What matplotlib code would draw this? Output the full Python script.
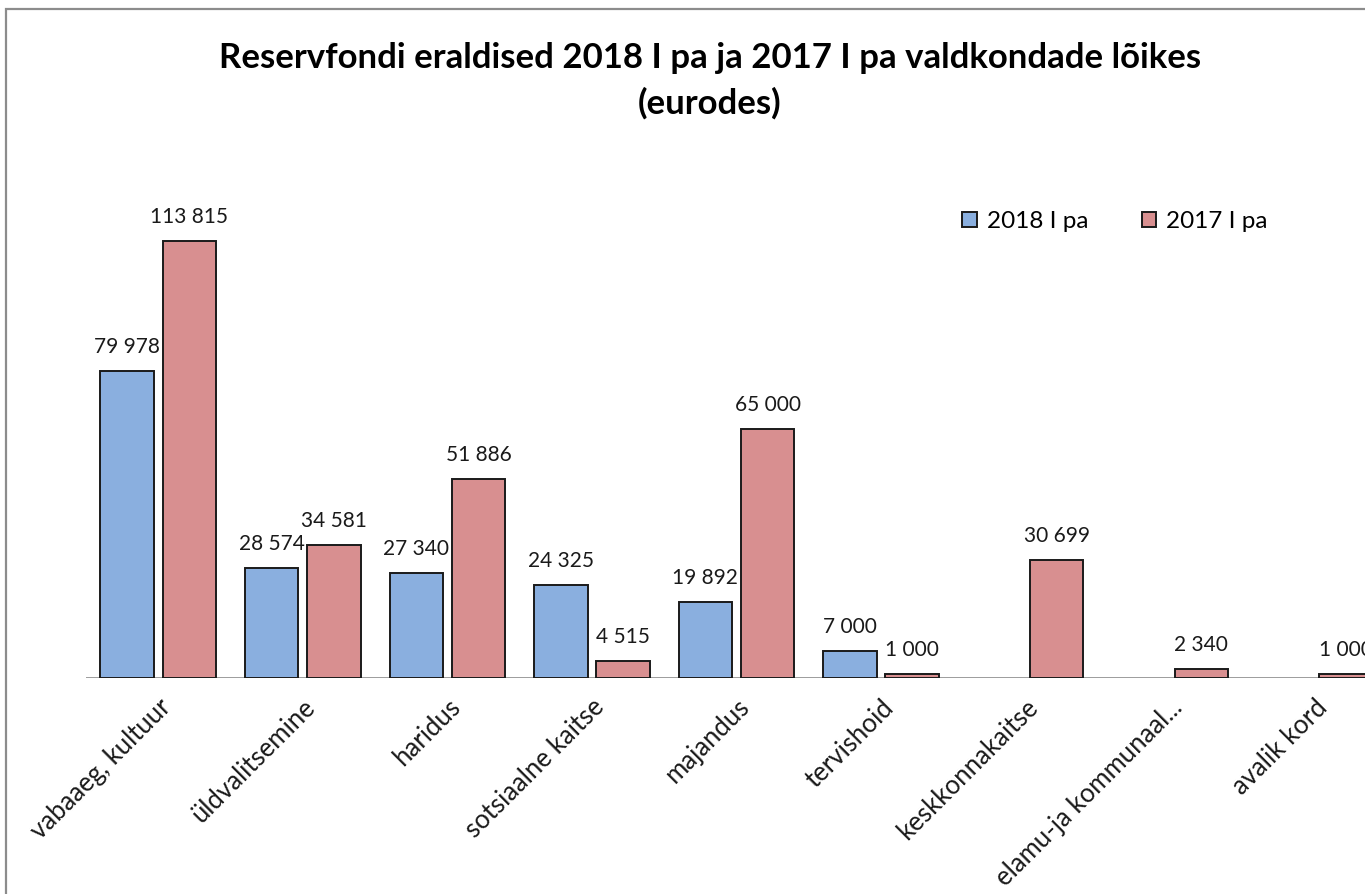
import matplotlib.pyplot as plt
import matplotlib.patches as patches
import numpy as np

categories = ["vabaaeg, kultuur", "üldvalitsemine", "haridus", "sotsiaalne kaitse",
              "majandus", "tervishoid", "keskkonnakaitse", "elamu-ja kommunaal...",
              "avalik kord"]
v2018 = [79978, 28574, 27340, 24325, 19892, 7000, 0, 0, 0]
v2017 = [113815, 34581, 51886, 4515, 65000, 1000, 30699, 2340, 1000]
series_names = ["2018 I pa", "2017 I pa"]

plt.rcParams['font.family'] = ['Lato', 'DejaVu Sans']

fig = plt.figure(figsize=(13.65, 8.94), dpi=100)

# outer frame of the (cropped) chart area
frame = patches.Rectangle((6 / 1365, -0.2), 1.5, 0.2 + (894 - 9) / 894,
                          transform=fig.transFigure, fill=False,
                          edgecolor="#8c8c8c", linewidth=1.6)
fig.patches.append(frame)

ax = fig.add_axes([86 / 1365, (894 - 678) / 894, 1301 / 1365, 499 / 894])
x = np.arange(len(categories))
w = 0.37
off = 0.215
b1 = ax.bar(x - off, v2018, w, color="#8aafdf", edgecolor="#1a1a1a", linewidth=1.4,
            label=series_names[0])
b2 = ax.bar(x + off, v2017, w, color="#d88f90", edgecolor="#1a1a1a", linewidth=1.4,
            label=series_names[1])

def fmt(v):
    return f"{v:,}".replace(",", " ")

for bars, vals in ((b1, v2018), (b2, v2017)):
    for r, v in zip(bars, vals):
        if v == 0:
            r.set_visible(False)
            continue
        ax.annotate(fmt(v), (r.get_x() + r.get_width() / 2, v), xytext=(0, 10),
                    textcoords="offset points", ha="center", va="bottom",
                    fontsize=15, color="#1a1a1a")

ax.set_xlim(-0.5, len(categories) - 0.5)
ax.set_ylim(0, 130000)
ax.axhline(0, color="#8c8c8c", linewidth=1.2, zorder=0.5)
for s in ax.spines.values():
    s.set_visible(False)
ax.set_yticks([])
ax.set_xticks(x)
ax.set_xticklabels(categories, rotation=45, ha="right", rotation_mode="anchor",
                   fontsize=18.5, color="#1a1a1a")
ax.tick_params(axis="x", length=0, pad=12)

fig.text(0.52, 0.935, "Reservfondi eraldised 2018 I pa ja 2017 I pa valdkondade lõikes",
         ha="center", va="center", fontsize=25, fontweight="bold")
fig.text(0.52, 0.885, "(eurodes)", ha="center", va="center", fontsize=25, fontweight="bold")

leg = fig.legend(handles=[b1, b2], loc="center left", bbox_to_anchor=(0.689, 0.752),
                 ncol=2, frameon=False, fontsize=17.5, handlelength=0.6, handleheight=0.6,
                 columnspacing=2.2, handletextpad=0.4)

fig.savefig("out.png", dpi=100)
